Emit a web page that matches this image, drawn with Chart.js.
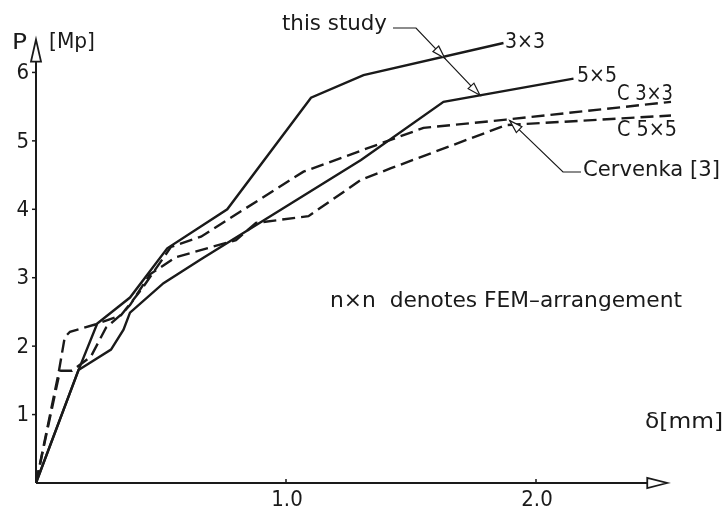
<!DOCTYPE html>
<html>
<head>
<meta charset="utf-8">
<script src="https://cdn.jsdelivr.net/npm/chart.js@4.4.0/dist/chart.umd.min.js"></script>
<style>
  html, body { margin: 0; padding: 0; background: #fff; }
  #wrap { width: 724px; height: 515px; position: relative; }
</style>
</head>
<body>
<div id="wrap"><canvas id="pdChart"></canvas></div>
<script>
// load-deflection curves, delta in mm, P in Mp
const study3x3 = [[0,0],[0.17,1.65],[0.245,2.33],[0.376,2.71],[0.525,3.43],[0.765,4.0],[1.10,5.63],[1.31,5.96],[1.87,6.43]];
const study5x5 = [[0,0],[0.17,1.65],[0.30,1.95],[0.35,2.24],[0.376,2.49],[0.51,2.92],[0.66,3.27],[1.30,4.72],[1.63,5.57],[2.15,5.91]];
const cerv3x3 = [[0,0],[0.09,1.6],[0.115,2.13],[0.136,2.21],[0.24,2.32],[0.34,2.45],[0.42,2.82],[0.54,3.45],[0.66,3.6],[1.07,4.55],[1.55,5.19],[1.88,5.31],[2.54,5.57]];
const cerv5x5 = [[0,0],[0.096,1.64],[0.144,1.64],[0.22,1.85],[0.28,2.27],[0.34,2.46],[0.376,2.6],[0.456,3.05],[0.56,3.3],[0.8,3.55],[0.88,3.8],[1.09,3.9],[1.3,4.43],[1.42,4.6],[1.88,5.23],[2.54,5.37]];

const xTicks = [1.0, 2.0];
const xTickLabels = ['1.0', '2.0'];
const yTicks = [1, 2, 3, 4, 5, 6];

const FONT = '"DejaVu Sans Condensed", "Liberation Sans Narrow", "DejaVu Sans", sans-serif';
const INK = '#1a1a1a';

function pts(arr) { return arr.map(p => ({ x: p[0], y: p[1] })); }

function openArrow(ctx, tx, ty, fx, fy, len, half) {
  // open triangle head, tip at (tx,ty), coming from (fx,fy)
  const a = Math.atan2(ty - fy, tx - fx);
  const bx = tx - len * Math.cos(a), by = ty - len * Math.sin(a);
  const nx = -Math.sin(a) * half, ny = Math.cos(a) * half;
  ctx.beginPath();
  ctx.moveTo(tx, ty);
  ctx.lineTo(bx + nx, by + ny);
  ctx.lineTo(bx - nx, by - ny);
  ctx.closePath();
  ctx.fillStyle = '#fff';
  ctx.fill();
  ctx.stroke();
}

// text stretched to a given width (drawing lettering is wider than the fonts we have)
function fitText(ctx, s, x, y, w) {
  const m = ctx.measureText(s).width;
  ctx.save();
  ctx.translate(x, y);
  ctx.scale(w / m, 1);
  ctx.fillStyle = INK;
  ctx.fillText(s, 0, 0);
  ctx.restore();
}

const drawing = {
  id: 'drawing',
  afterDatasetsDraw(chart) {
    const ctx = chart.ctx;
    const xs = chart.scales.x, ys = chart.scales.y;
    const X = v => xs.getPixelForValue(v), Y = v => ys.getPixelForValue(v);
    const x0 = X(0), y0 = Y(0);
    ctx.save();
    ctx.strokeStyle = INK;
    ctx.fillStyle = INK;
    ctx.lineWidth = 2;
    ctx.setLineDash([]);

    // axes
    const xEnd = X(2.525), yEnd = Y(6.48);
    ctx.beginPath();
    ctx.moveTo(x0, y0); ctx.lineTo(xEnd - 18, y0);
    ctx.moveTo(x0, y0); ctx.lineTo(x0, yEnd + 20);
    ctx.stroke();
    ctx.lineWidth = 1.8;
    openArrow(ctx, xEnd, y0, x0, y0, 20, 5);
    openArrow(ctx, x0, yEnd, x0, y0, 22, 5);

    // ticks
    ctx.lineWidth = 1.5;
    ctx.font = '22px ' + FONT;
    ctx.fillStyle = INK;
    ctx.textAlign = 'right';
    ctx.textBaseline = 'middle';
    yTicks.forEach(v => {
      ctx.beginPath(); ctx.moveTo(x0 - 4, Y(v)); ctx.lineTo(x0, Y(v)); ctx.stroke();
      ctx.fillText(String(v), x0 - 7, Y(v) + 1);
    });
    ctx.textAlign = 'center';
    ctx.textBaseline = 'top';
    xTicks.forEach((v, i) => {
      ctx.beginPath(); ctx.moveTo(X(v), y0); ctx.lineTo(X(v), y0 - 4); ctx.stroke();
      ctx.fillText(xTickLabels[i], X(v) + 1, y0 + 6);
    });

    // titles and labels
    ctx.textBaseline = 'middle';
    ctx.textAlign = 'left';
    fitText(ctx, 'P', 12, 43, 15);
    fitText(ctx, '[Mp]', 49, 42, 46);
    fitText(ctx, 'δ[mm]', 645, 422, 78);
    fitText(ctx, '3×3', 505, 42, 40);
    fitText(ctx, '5×5', 577, 76, 40);
    fitText(ctx, 'C 3×3', 617, 94, 56);
    fitText(ctx, 'C 5×5', 617, 130, 60);
    fitText(ctx, 'this study', 282, 24, 105);
    fitText(ctx, 'Cervenka [3]', 583, 170, 137);
    fitText(ctx, 'n×n  denotes FEM–arrangement', 330, 301, 352);

    // leaders
    ctx.lineWidth = 1.2;
    const lx = 416, ly = 28;
    const t2x = X(1.776), t2y = Y(5.68) + 1;
    const f = 0.45;
    const t1x = lx + (t2x - lx) * f, t1y = ly + (t2y - ly) * f;
    ctx.beginPath();
    ctx.moveTo(393, ly); ctx.lineTo(lx, ly); ctx.lineTo(t2x, t2y);
    ctx.stroke();
    openArrow(ctx, t1x, t1y, lx, ly, 13, 4);
    openArrow(ctx, t2x, t2y, lx, ly, 13, 4);

    const c1x = X(1.895), c1y = Y(5.31) + 1;
    ctx.beginPath();
    ctx.moveTo(581, 172); ctx.lineTo(563, 172); ctx.lineTo(c1x, c1y);
    ctx.stroke();
    openArrow(ctx, c1x, c1y, 563, 172, 13, 4);
    ctx.restore();
  }
};

const solid = { borderColor: INK, borderWidth: 2.4, borderDash: [], pointRadius: 0, showLine: true, fill: false, tension: 0 };
const dashed = { borderColor: INK, borderWidth: 2.4, borderDash: [13, 6], pointRadius: 0, showLine: true, fill: false, tension: 0 };

const ctx = document.getElementById('pdChart').getContext('2d');
const pdChart = new Chart(ctx, {
  type: 'scatter',
  data: {
    datasets: [
      Object.assign({ label: 'this study 3x3', data: pts(study3x3) }, solid),
      Object.assign({ label: 'this study 5x5', data: pts(study5x5) }, solid),
      Object.assign({ label: 'Cervenka C 3x3', data: pts(cerv3x3) }, dashed),
      Object.assign({ label: 'Cervenka C 5x5', data: pts(cerv5x5) }, dashed),
    ],
  },
  options: {
    responsive: true,
    maintainAspectRatio: false,
    animation: false,
    layout: { padding: { left: 36, right: 0.5, top: 4, bottom: 32 } },
    scales: {
      x: { type: 'linear', min: 0, max: 2.75, display: false },
      y: { type: 'linear', min: 0, max: 7, display: false },
    },
    plugins: {
      legend: { display: false },
      tooltip: { enabled: false },
    },
  },
  plugins: [drawing],
});
</script>
</body>
</html>
